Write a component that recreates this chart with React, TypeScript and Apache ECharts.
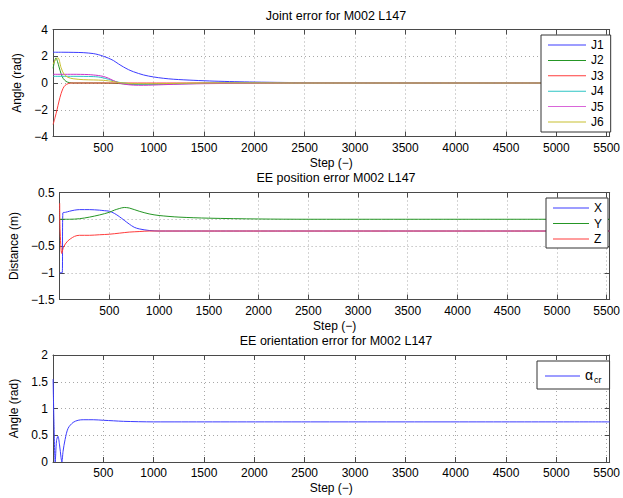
import React, { useEffect, useRef } from "react";
import * as echarts from "echarts";

// ---------- Data ----------
const X_MIN = 0;
const X_MAX = 5530;
const X_INTERVAL = 500;

// Joint error (rad)
const j1Steps = [1, 100, 200, 300, 400, 450, 500, 550, 600, 650, 700, 750, 800, 900, 1000, 1100, 1200, 1400, 1600, 1800, 2000, 2300, 2600, 3000, 3500, 5530];
const j1Vals = [2.3, 2.3, 2.29, 2.27, 2.2, 2.12, 2.0, 1.86, 1.68, 1.43, 1.2, 1.0, 0.84, 0.6, 0.45, 0.35, 0.28, 0.2, 0.14, 0.1, 0.07, 0.04, 0.02, 0.01, 0, 0];

const j2Steps = [1, 15, 30, 45, 60, 80, 100, 130, 160, 200, 400, 600, 700, 800, 900, 1000, 1200, 1500, 2000, 5530];
const j2Vals = [1.1, 1.6, 1.88, 1.6, 1.2, 0.7, 0.35, 0.12, 0.03, 0, 0, -0.02, -0.06, -0.1, -0.1, -0.09, -0.05, -0.02, 0, 0];

const j3Steps = [1, 20, 40, 60, 80, 100, 120, 150, 180, 250, 5530];
const j3Vals = [-3.1, -2.6, -2.0, -1.35, -0.8, -0.4, -0.18, -0.05, 0, 0, 0];

const j4Steps = [1, 200, 400, 450, 500, 550, 600, 650, 700, 800, 900, 1000, 1200, 1500, 2000, 5530];
const j4Vals = [0.5, 0.5, 0.48, 0.45, 0.38, 0.28, 0.16, 0.06, 0, -0.08, -0.1, -0.1, -0.07, -0.03, 0, 0];

const j5Steps = [1, 200, 350, 400, 450, 500, 550, 600, 650, 700, 800, 900, 1000, 1200, 1500, 2000, 2500, 5530];
const j5Vals = [0.65, 0.65, 0.63, 0.6, 0.56, 0.49, 0.36, 0.18, 0.02, -0.08, -0.16, -0.17, -0.15, -0.1, -0.05, -0.02, 0, 0];

const j6Steps = [1, 25, 50, 80, 110, 150, 200, 300, 400, 500, 550, 600, 650, 700, 800, 1000, 1300, 1600, 5530];
const j6Vals = [1.4, 1.75, 1.88, 1.15, 0.65, 0.42, 0.32, 0.25, 0.23, 0.2, 0.16, 0.1, 0.04, 0, -0.04, -0.05, -0.02, 0, 0];

// EE position error (m)
const xSteps = [1, 26, 33, 60, 100, 150, 200, 300, 400, 450, 500, 550, 600, 650, 700, 750, 800, 900, 1000, 1500, 5530];
const xVals = [-1.0, -1.0, 0.12, 0.13, 0.15, 0.17, 0.18, 0.18, 0.17, 0.16, 0.15, 0.11, 0.05, -0.02, -0.09, -0.15, -0.18, -0.21, -0.22, -0.22, -0.22];

const ySteps = [1, 100, 200, 300, 400, 500, 550, 600, 650, 700, 800, 900, 1000, 1200, 1500, 2000, 2500, 5530];
const yVals = [0, 0, 0.01, 0.04, 0.08, 0.13, 0.17, 0.2, 0.22, 0.21, 0.15, 0.1, 0.07, 0.04, 0.02, 0.005, 0, 0];

const zSteps = [1, 5, 22, 40, 80, 150, 200, 300, 400, 500, 600, 700, 800, 900, 1000, 5530];
const zVals = [0.3, -0.2, -0.64, -0.52, -0.41, -0.32, -0.3, -0.3, -0.29, -0.28, -0.26, -0.24, -0.23, -0.22, -0.22, -0.22];

// EE orientation error (rad)
const aSteps = [1, 10, 22, 35, 49, 65, 80, 88, 100, 120, 150, 200, 250, 300, 400, 500, 600, 700, 1000, 5530];
const aVals = [1.55, 0.7, 0, 0.4, 0.48, 0.32, 0.08, 0, 0.2, 0.42, 0.63, 0.74, 0.78, 0.79, 0.79, 0.78, 0.77, 0.76, 0.75, 0.75];

const jointNames = ["J1", "J2", "J3", "J4", "J5", "J6"];
const posNames = ["X", "Y", "Z"];
const oriNames = ["α_cr"];

const titles = ["Joint error for M002 L147", "EE position error M002 L147", "EE orientation error for M002 L147"];
const yNames = ["Angle (rad)", "Distance (m)", "Angle (rad)"];
const yRanges = [
  { min: -4, max: 4, interval: 2 },
  { min: -1.5, max: 0.5, interval: 0.5 },
  { min: 0, max: 2, interval: 0.5 },
];

// ---------- Styles ----------
const FONT = "'Liberation Sans', Arial, Helvetica, sans-serif";
const AXIS_COLOR = "#4a4a4a";
const GRID_COLOR = "#a8a8a8";
const C = {
  blue: "#3c3cff",
  green: "#259625",
  red: "#ff3c3c",
  cyan: "#2ec4c4",
  magenta: "#cc33cc",
  yellow: "#c8c030",
};

const zip = (xs: number[], ys: number[]) => xs.map((x, i) => [x, ys[i]]);
const fmtY = (v: number) => String(v).replace("-", "\u2212");

const grids = [
  { left: 53, top: 29.5, width: 560, height: 107 },
  { left: 53, top: 192.5, width: 560, height: 107 },
  { left: 53, top: 355, width: 560, height: 107 },
];
const titleY = [15.5, 178, 341];
const yNameGap = [25, 34, 25];

function buildOption() {
  const xAxis: any[] = [];
  const yAxis: any[] = [];
  grids.forEach((_, g) => {
    xAxis.push({
      type: "value",
      gridIndex: g,
      position: "bottom",
      min: X_MIN,
      max: X_MAX,
      interval: X_INTERVAL,
      name: "Step (\u2212)",
      nameLocation: "middle",
      nameGap: 20,
      nameTextStyle: { fontSize: 12, color: "#000", fontFamily: FONT },
      axisLine: { show: true, onZero: false, lineStyle: { color: AXIS_COLOR, width: 1 } },
      axisTick: { show: true, inside: true, length: 5, lineStyle: { color: AXIS_COLOR } },
      axisLabel: {
        show: true,
        margin: 5,
        fontSize: 12,
        color: "#000",
        fontFamily: FONT,
        formatter: (v: number) => (v === 0 || v % 500 !== 0 ? "" : String(v)),
      },
      splitLine: { show: true, lineStyle: { color: GRID_COLOR, type: [1, 3], width: 1 } },
    });
    xAxis.push({
      type: "value",
      gridIndex: g,
      position: "top",
      min: X_MIN,
      max: X_MAX,
      interval: X_INTERVAL,
      axisLine: { show: true, onZero: false, lineStyle: { color: AXIS_COLOR, width: 1 } },
      axisTick: { show: true, inside: true, length: 5, lineStyle: { color: AXIS_COLOR } },
      axisLabel: { show: false },
      splitLine: { show: false },
    });
    const r = yRanges[g];
    yAxis.push({
      type: "value",
      gridIndex: g,
      position: "left",
      min: r.min,
      max: r.max,
      interval: r.interval,
      name: yNames[g],
      nameLocation: "middle",
      nameGap: yNameGap[g],
      nameTextStyle: { fontSize: 12, color: "#000", fontFamily: FONT },
      axisLine: { show: true, onZero: false, lineStyle: { color: AXIS_COLOR, width: 1 } },
      axisTick: { show: true, inside: true, length: 5, lineStyle: { color: AXIS_COLOR } },
      axisLabel: { show: true, margin: 5, fontSize: 12, color: "#000", fontFamily: FONT, formatter: fmtY },
      splitLine: { show: true, lineStyle: { color: GRID_COLOR, type: [1, 3], width: 1 } },
    });
    yAxis.push({
      type: "value",
      gridIndex: g,
      position: "right",
      min: r.min,
      max: r.max,
      interval: r.interval,
      axisLine: { show: true, onZero: false, lineStyle: { color: AXIS_COLOR, width: 1 } },
      axisTick: { show: true, inside: true, length: 5, lineStyle: { color: AXIS_COLOR } },
      axisLabel: { show: false },
      splitLine: { show: false },
    });
  });

  const line = (name: string, g: number, data: number[][], color: string) => ({
    type: "line",
    name,
    xAxisIndex: g * 2,
    yAxisIndex: g * 2,
    data,
    symbol: "none",
    showSymbol: false,
    smooth: 0.3,
    clip: true,
    lineStyle: { width: 1, color },
    itemStyle: { color },
    emphasis: { disabled: true },
  });

  const series = [
    line("J1", 0, zip(j1Steps, j1Vals), C.blue),
    line("J2", 0, zip(j2Steps, j2Vals), C.green),
    line("J3", 0, zip(j3Steps, j3Vals), C.red),
    line("J4", 0, zip(j4Steps, j4Vals), C.cyan),
    line("J5", 0, zip(j5Steps, j5Vals), C.magenta),
    line("J6", 0, zip(j6Steps, j6Vals), C.yellow),
    line("X", 1, zip(xSteps, xVals), C.blue),
    line("Y", 1, zip(ySteps, yVals), C.green),
    line("Z", 1, zip(zSteps, zVals), C.red),
    line("α_cr", 2, zip(aSteps, aVals), C.blue),
  ];

  const legendBase = {
    orient: "vertical",
    itemHeight: 12,
    icon: "path://M0,0h40v1h-40z",
    borderColor: "#333",
    borderWidth: 1,
    borderRadius: 0,
    backgroundColor: "#fff",
    selectedMode: false,
    textStyle: { fontSize: 12, color: "#000", fontFamily: FONT, lineHeight: 12 },
  };

  const legend = [
    { ...legendBase, data: jointNames, left: 541, top: 35, padding: [4, 7, 4, 7], itemGap: 3.4, itemWidth: 38 },
    { ...legendBase, data: posNames, left: 546, top: 198, padding: [4, 6, 3, 7], itemGap: 3.5, itemWidth: 36 },
    {
      ...legendBase,
      data: oriNames,
      left: 537,
      top: 361,
      padding: [5, 8, 5, 8],
      itemGap: 3,
      itemWidth: 35,
      formatter: (n: string) => (n === "α_cr" ? "{a|α}{s|cr}" : n),
      textStyle: {
        fontSize: 12,
        color: "#000",
        fontFamily: FONT,
        rich: {
          a: { fontSize: 14, fontFamily: FONT, color: "#000", lineHeight: 16, verticalAlign: "top" },
          s: { fontSize: 9, fontFamily: FONT, color: "#000", lineHeight: 16, verticalAlign: "bottom", padding: [9, 0, 0, 1] },
        },
      },
    },
  ];

  const graphic = titles.map((t, i) => ({
    type: "text",
    x: 336,
    y: titleY[i],
    style: { text: t, fontSize: 12.5, fontFamily: FONT, fill: "#000", align: "center", verticalAlign: "middle" },
  }));

  return {
    animation: false,
    backgroundColor: "#fff",
    textStyle: { fontFamily: FONT },
    grid: grids,
    xAxis,
    yAxis,
    legend,
    series,
    graphic,
  };
}

export default function App() {
  const ref = useRef<HTMLDivElement>(null);
  useEffect(() => {
    if (!ref.current) return;
    const chart = echarts.init(ref.current, undefined, { renderer: "svg" });
    chart.setOption(buildOption() as any);
    return () => chart.dispose();
  }, []);
  return <div ref={ref} style={{ position: "fixed", left: 0, top: 0, width: 623, height: 498, background: "#fff" }} />;
}
